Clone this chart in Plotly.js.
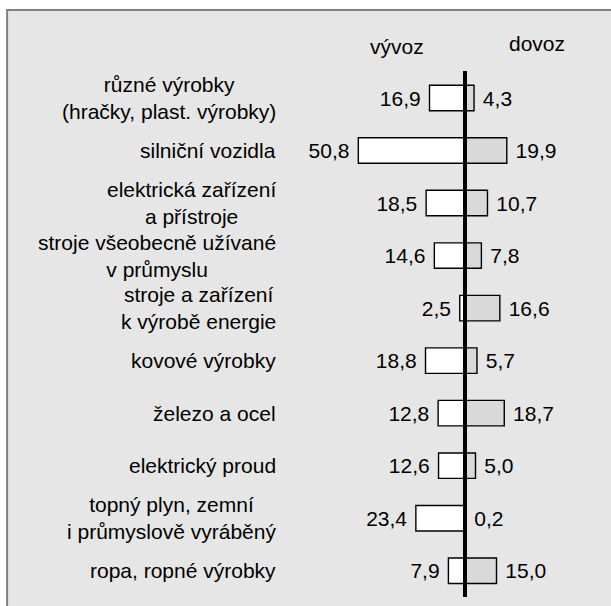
<!DOCTYPE html>
<html><head><meta charset="utf-8">
<script src="https://cdn.plot.ly/plotly-3.0.1.min.js"></script>
<style>html,body{margin:0;padding:0;background:#fff;}</style>
</head><body><div id="chart" style="width:611px;height:606px;"></div>
<script>
const categories = [
  "různé výrobky<br>(hračky, plast. výrobky)",
  "silniční vozidla",
  "elektrická zařízení<br>a přístroje",
  "stroje všeobecně užívané<br>v průmyslu",
  "stroje a zařízení<br>k výrobě energie",
  "kovové výrobky",
  "železo a ocel",
  "elektrický proud",
  "topný plyn, zemní<br>i průmyslově vyráběný",
  "ropa, ropné výrobky"
];
const vyvoz = [16.9, 50.8, 18.5, 14.6, 2.5, 18.8, 12.8, 12.6, 23.4, 7.9];
const dovoz = [4.3, 19.9, 10.7, 7.8, 16.6, 5.7, 18.7, 5.0, 0.2, 15.0];
const seriesNames = ["vývoz", "dovoz"];

const fmt = v => v.toFixed(1).replace('.', ',');
const FONT = 'Liberation Sans, Arial, sans-serif';
const FS = 21;

const traces = [
  {
    type: 'bar', orientation: 'h', name: seriesNames[0],
    y: categories, x: vyvoz.map(v => -v),
    text: vyvoz.map(v => fmt(v) + '\u00a0'),
    textposition: 'outside', cliponaxis: false,
    textfont: {family: FONT, size: FS, color: '#000'},
    marker: {color: '#ffffff', line: {color: '#000', width: 1.4}},
    hoverinfo: 'skip'
  },
  {
    type: 'bar', orientation: 'h', name: seriesNames[1],
    y: categories, x: dovoz,
    text: dovoz.map(v => '\u00a0' + fmt(v)),
    textposition: 'outside', cliponaxis: false,
    textfont: {family: FONT, size: FS, color: '#000'},
    marker: {color: '#d9d9d9', line: {color: '#000', width: 1.4}},
    hoverinfo: 'skip'
  }
];

const annotations = categories.map(c => ({
  xref: 'paper', yref: 'y', x: 0, y: c, xanchor: 'right', yanchor: 'middle',
  xshift: -19, text: c, align: 'center', showarrow: false,
  font: {family: FONT, size: FS, color: '#000'}
}));
annotations.push({
  xref: 'paper', yref: 'paper', x: 0.339, y: 1.046, xanchor: 'center', yanchor: 'middle',
  text: seriesNames[0], showarrow: false, font: {family: FONT, size: FS, color: '#000'}
});
annotations.push({
  xref: 'paper', yref: 'paper', x: 0.816, y: 1.053, xanchor: 'center', yanchor: 'middle',
  text: seriesNames[1], showarrow: false, font: {family: FONT, size: FS, color: '#000'}
});

const layout = {
  width: 611, height: 606,
  margin: {l: 297, r: 20, t: 71, b: 9, pad: 0},
  paper_bgcolor: '#ffffff', plot_bgcolor: '#ffffff',
  barmode: 'relative', bargap: 0.515,
  showlegend: false,
  xaxis: {range: [-80, 60], showgrid: false, zeroline: false, showticklabels: false, ticks: '', showline: false, fixedrange: true},
  yaxis: {autorange: 'reversed', showgrid: false, zeroline: false, showticklabels: false, ticks: '', showline: false, fixedrange: true},
  shapes: [
    {type: 'rect', xref: 'paper', yref: 'paper', x0: -0.986, x1: 1.1, y0: -0.05, y1: 1.116,
     fillcolor: '#e6e6e6', line: {color: '#808080', width: 2}, layer: 'below'},
    {type: 'line', xref: 'x', yref: 'paper', x0: 0, x1: 0, y0: 0, y1: 1,
     line: {color: '#000', width: 4}, layer: 'above'}
  ],
  annotations: annotations,
  font: {family: FONT, size: FS, color: '#000'}
};

Plotly.newPlot('chart', traces, layout, {displayModeBar: false, staticPlot: true});
</script>
</body></html>
